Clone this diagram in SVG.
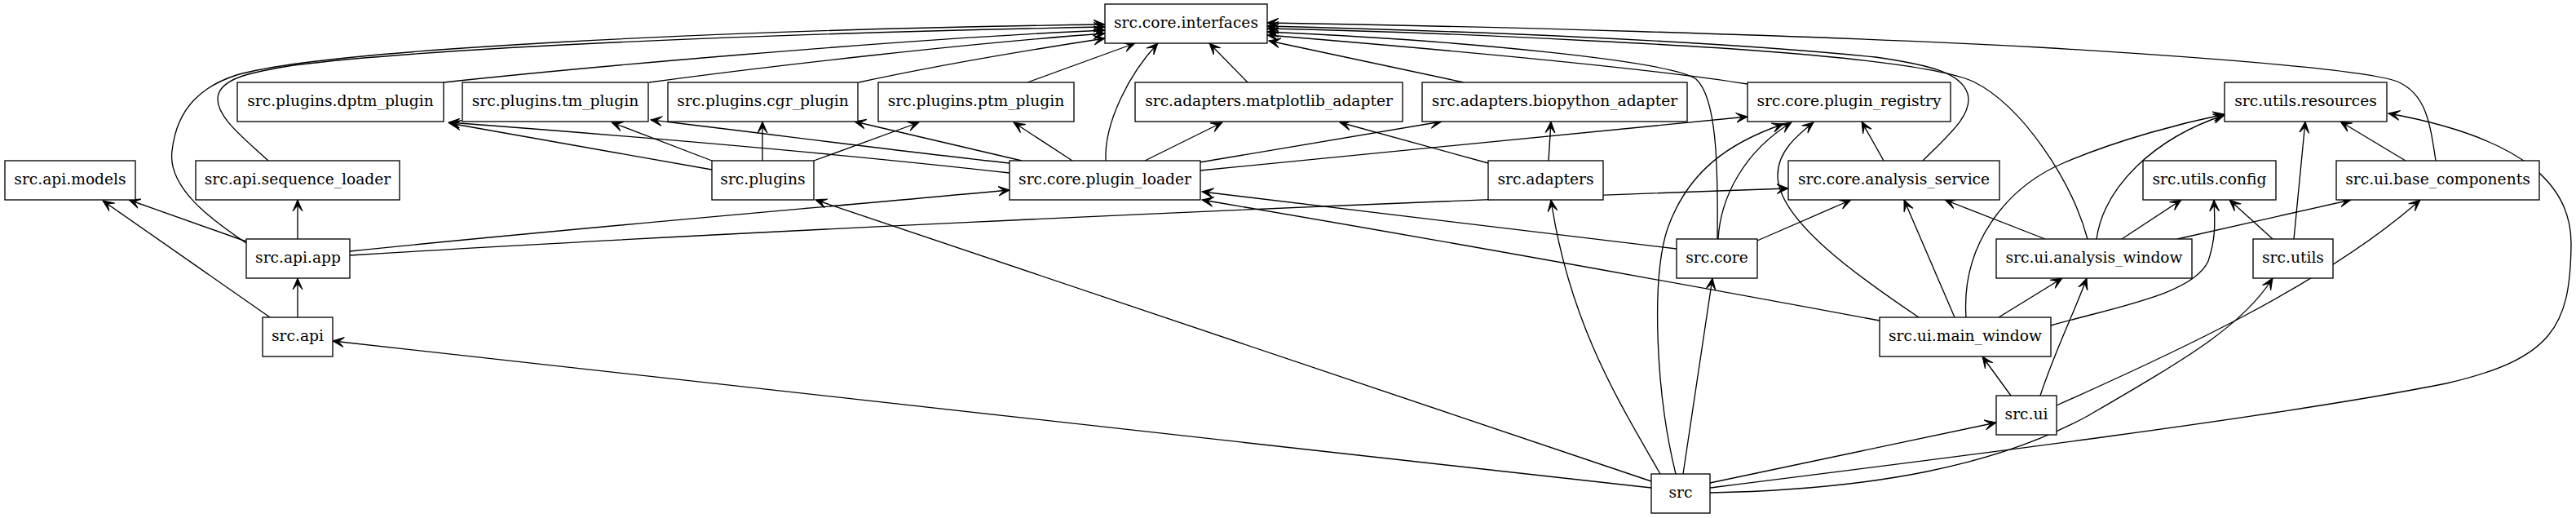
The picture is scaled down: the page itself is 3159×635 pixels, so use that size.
<svg xmlns="http://www.w3.org/2000/svg" width="3159" height="635" viewBox="0 0 3159 635">
<style>
.node rect{fill:#fff;stroke:#000;stroke-width:1.33}
.node text{font-family:"DejaVu Serif",serif;font-size:18.67px;text-anchor:middle;fill:#000}
.edges path{fill:none;stroke:#000;stroke-width:1.33;marker-end:url(#vee)}
</style>
<defs>
<marker id="vee" viewBox="0 -7 15 14" refX="14" refY="0" markerWidth="15" markerHeight="14" markerUnits="userSpaceOnUse" orient="auto">
<path d="M14,0 L0,-6 L7,0 L0,6 Z" fill="#000" stroke="#000" stroke-width="1"/>
</marker>
</defs>
<rect width="3159" height="635" fill="#fff"/>
<g id="connectors" class="edges">
<path d="M302,298 C260,270 205,230 211,185 C217,130 250,105 290,92 C400,60 900,36 1355,30"/>
<path d="M329,197 C300,170 260,140 268,115 C275,95 310,88 360,80 C550,56 1000,40 1355,33"/>
<path d="M544,101 C700,84 1100,48 1355,37"/>
<path d="M796,101 C950,80 1200,52 1355,41"/>
<path d="M1053,101 C1150,80 1270,60 1355,47"/>
<path d="M1260,101 L1392,53"/>
<path d="M1356,197 C1354,150 1385,90 1420,53"/>
<path d="M1530,101 L1483,53"/>
<path d="M1795,101 L1556,50"/>
<path d="M2143,103 C2000,80 1700,55 1554,43"/>
<path d="M2106,293 C2107,200 2105,120 2080,97 C2050,75 1800,50 1554,39"/>
<path d="M2358,197 C2390,165 2420,140 2413,115 C2405,90 2370,80 2300,70 C2100,50 1800,38 1554,32"/>
<path d="M2560,293 C2540,220 2480,130 2420,100 C2370,78 2200,62 1950,50 C1800,42 1650,37 1554,35"/>
<path d="M2987,197 C2980,150 2975,115 2940,100 C2900,85 2700,70 2500,58 C2200,42 1800,32 1554,28"/>
<path d="M1238,212 C1000,185 750,165 550,150"/>
<path d="M873,208 L551,151"/>
<path d="M873,197 L750,150"/>
<path d="M1238,200 C1100,185 950,165 798,147"/>
<path d="M935,197 L935,149"/>
<path d="M1253,197 L1048,149"/>
<path d="M998,197 L1127,150"/>
<path d="M1315,197 L1243,150"/>
<path d="M1404,197 L1499,150"/>
<path d="M1471,199 L1768,149"/>
<path d="M1472,209 L2143,143"/>
<path d="M1825,200 L1643,150"/>
<path d="M1899,197 L1902,149"/>
<path d="M429,308 C700,280 1000,255 1238,233"/>
<path d="M2056,305 L1474,235"/>
<path d="M2305,393 C2100,355 1800,300 1474,245"/>
<path d="M429,313 C800,290 1500,255 2193,231"/>
<path d="M365,293 L365,245"/>
<path d="M302,296 L158,245"/>
<path d="M331,389 L126,246"/>
<path d="M365,389 L365,341"/>
<path d="M2025,598 L408,418"/>
<path d="M2025,590 L1000,245"/>
<path d="M2036,581 C1990,500 1925,400 1902,245"/>
<path d="M2055,581 C2030,480 2025,340 2045,280 C2070,210 2120,175 2187,152"/>
<path d="M2064,581 L2100,341"/>
<path d="M2097,592 L2448,518"/>
<path d="M2097,604 C2300,600 2450,570 2560,510 C2680,440 2750,400 2787,341"/>
<path d="M2097,598 C2400,560 2800,510 3000,470 C3130,440 3152,400 3153,300 C3154,230 3100,170 2929,139"/>
<path d="M2466,485 L2431,437"/>
<path d="M2502,485 C2520,430 2545,380 2559,341"/>
<path d="M2522,497 C2650,440 2850,350 2968,245"/>
<path d="M2451,389 L2529,341"/>
<path d="M2515,399 C2600,375 2690,360 2708,320 C2718,290 2716,270 2715,245"/>
<path d="M2411,389 C2405,300 2460,230 2530,200 C2600,170 2680,150 2728,140"/>
<path d="M2397,389 L2335,245"/>
<path d="M2353,389 C2280,340 2180,270 2180,215 C2180,185 2205,165 2224,150"/>
<path d="M2508,293 L2385,245"/>
<path d="M2602,293 L2675,245"/>
<path d="M2670,293 L2883,245"/>
<path d="M2571,293 C2580,230 2640,170 2728,141"/>
<path d="M2787,293 L2734,245"/>
<path d="M2813,293 L2827,149"/>
<path d="M2950,197 L2870,149"/>
<path d="M2310,197 L2283,149"/>
<path d="M2107,293 C2110,240 2140,185 2197,150"/>
<path d="M2155,295 L2270,245"/>
</g>
<g id="n-interfaces" class="node"><rect x="1355" y="5" width="199" height="48"/><text x="1454.5" y="34">src.core.interfaces</text></g>
<g id="n-dptm" class="node"><rect x="291" y="101" width="253" height="48"/><text x="417.5" y="130">src.plugins.dptm_plugin</text></g>
<g id="n-tm" class="node"><rect x="567" y="101" width="228" height="48"/><text x="681" y="130">src.plugins.tm_plugin</text></g>
<g id="n-cgr" class="node"><rect x="819" y="101" width="233" height="48"/><text x="935.5" y="130">src.plugins.cgr_plugin</text></g>
<g id="n-ptm" class="node"><rect x="1077" y="101" width="240" height="48"/><text x="1197" y="130">src.plugins.ptm_plugin</text></g>
<g id="n-matplotlib" class="node"><rect x="1392" y="101" width="328" height="48"/><text x="1556" y="130">src.adapters.matplotlib_adapter</text></g>
<g id="n-biopython" class="node"><rect x="1744" y="101" width="325" height="48"/><text x="1906.5" y="130">src.adapters.biopython_adapter</text></g>
<g id="n-registry" class="node"><rect x="2143" y="101" width="249" height="48"/><text x="2267.5" y="130">src.core.plugin_registry</text></g>
<g id="n-resources" class="node"><rect x="2728" y="101" width="199" height="48"/><text x="2827.5" y="130">src.utils.resources</text></g>
<g id="n-models" class="node"><rect x="6" y="197" width="160" height="48"/><text x="86" y="226">src.api.models</text></g>
<g id="n-seqloader" class="node"><rect x="240" y="197" width="250" height="48"/><text x="365" y="226">src.api.sequence_loader</text></g>
<g id="n-plugins" class="node"><rect x="873" y="197" width="125" height="48"/><text x="935.5" y="226">src.plugins</text></g>
<g id="n-loader" class="node"><rect x="1238" y="197" width="234" height="48"/><text x="1355" y="226">src.core.plugin_loader</text></g>
<g id="n-adapters" class="node"><rect x="1825" y="197" width="141" height="48"/><text x="1895.5" y="226">src.adapters</text></g>
<g id="n-service" class="node"><rect x="2193" y="197" width="259" height="48"/><text x="2322.5" y="226">src.core.analysis_service</text></g>
<g id="n-config" class="node"><rect x="2628" y="197" width="163" height="48"/><text x="2709.5" y="226">src.utils.config</text></g>
<g id="n-basecomp" class="node"><rect x="2865" y="197" width="249" height="48"/><text x="2989.5" y="226">src.ui.base_components</text></g>
<g id="n-app" class="node"><rect x="302" y="293" width="127" height="48"/><text x="365.5" y="322">src.api.app</text></g>
<g id="n-core" class="node"><rect x="2056" y="293" width="99" height="48"/><text x="2105.5" y="322">src.core</text></g>
<g id="n-awindow" class="node"><rect x="2448" y="293" width="240" height="48"/><text x="2568" y="322">src.ui.analysis_window</text></g>
<g id="n-utils" class="node"><rect x="2763" y="293" width="98" height="48"/><text x="2812" y="322">src.utils</text></g>
<g id="n-api" class="node"><rect x="322" y="389" width="86" height="48"/><text x="365" y="418">src.api</text></g>
<g id="n-mainwindow" class="node"><rect x="2305" y="389" width="210" height="48"/><text x="2410" y="418">src.ui.main_window</text></g>
<g id="n-ui" class="node"><rect x="2448" y="485" width="74" height="48"/><text x="2485" y="514">src.ui</text></g>
<g id="n-src" class="node"><rect x="2025" y="581" width="72" height="48"/><text x="2061" y="610">src</text></g>
</svg>
